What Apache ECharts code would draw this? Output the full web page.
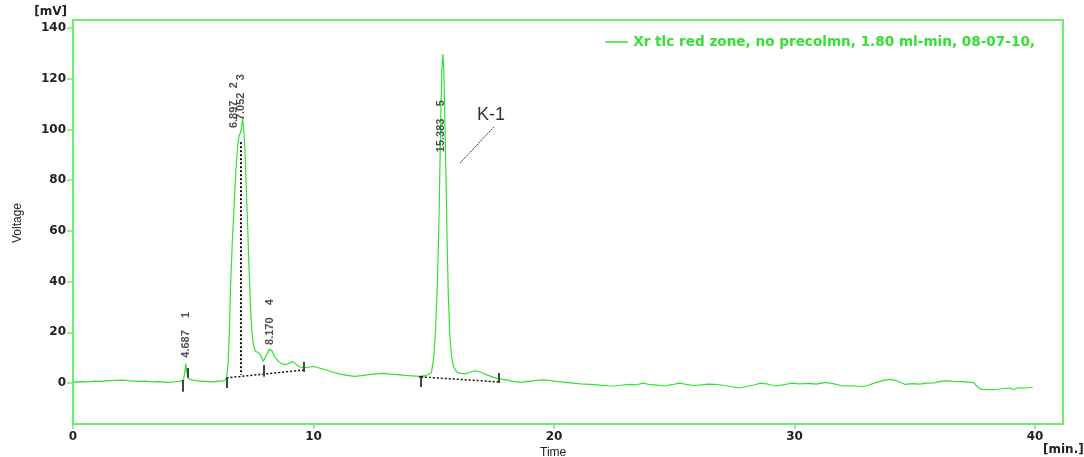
<!DOCTYPE html>
<html>
<head>
<meta charset="utf-8">
<script src="https://cdn.jsdelivr.net/npm/echarts@6/dist/echarts.min.js"></script>
<style>
  html, body { margin: 0; padding: 0; background: #ffffff; }
  #chart { width: 1084px; height: 457px; }
</style>
</head>
<body>
<div id="chart"></div>
<script>
// Chromatogram trace: retention time [min] and detector signal [mV]
const retentionTime = [
  0, 0.3, 0.6, 0.9, 1.2, 1.5, 1.8, 2.1, 2.4, 2.7, 3.0, 3.3, 3.6, 3.9, 4.2, 4.45, 4.6, 4.65, 4.687, 4.73, 4.8, 4.95,
  5.2, 5.5, 5.8, 6.1, 6.3, 6.38,
  6.45, 6.5, 6.55, 6.62, 6.7, 6.78, 6.85, 6.897, 6.95, 7.0, 7.052, 7.1, 7.15, 7.2, 7.26, 7.32, 7.38, 7.44, 7.5,
  7.58, 7.7, 7.8, 7.9, 7.96, 8.05, 8.17, 8.28, 8.4, 8.55, 8.7, 8.85, 9.0, 9.15, 9.3, 9.45, 9.6, 9.8,
  10.0, 10.2, 10.5, 10.8, 11.1, 11.4, 11.7, 12.0, 12.3, 12.6, 12.9, 13.2, 13.5, 13.8, 14.1, 14.4, 14.7, 14.9,
  15.0, 15.08, 15.15, 15.21, 15.26, 15.3, 15.34, 15.383, 15.42, 15.46, 15.5, 15.55, 15.6, 15.66, 15.73, 15.82, 15.95,
  16.1, 16.3, 16.5, 16.7, 16.9, 17.1, 17.4, 17.7, 18.0, 18.3, 18.6, 18.9, 19.2, 19.5, 19.8,
  20.1, 20.4, 20.8, 21.1, 21.5, 21.9, 22.2, 22.5, 22.8, 23.1, 23.4, 23.7, 24.0, 24.3, 24.6, 24.9,
  25.2, 25.5, 25.8, 26.1, 26.4, 26.7, 27.0, 27.4, 27.7, 28.0, 28.3, 28.6, 28.9, 29.2, 29.5, 29.9,
  30.2, 30.6, 30.9, 31.3, 31.6, 32.0, 32.4, 32.85, 33.1, 33.4, 33.7, 33.96, 34.2, 34.4, 34.6, 34.9,
  35.2, 35.5, 35.8, 36.0, 36.3, 36.6, 36.9, 37.2, 37.45, 37.6, 37.75, 38.0, 38.4, 38.7, 38.95, 39.1, 39.3, 39.6, 39.9
];
const voltage = [
  0.3, 0.5, 0.4, 0.7, 0.6, 0.9, 1.0, 1.1, 0.8, 0.6, 0.7, 0.4, 0.5, 0.2, 0.4, 0.6, 1.2, 4.5, 7.6, 4.0, 1.8, 1.2,
  0.8, 0.6, 0.4, 0.7, 0.9, 1.8,
  8, 20, 38, 55, 70, 85, 94, 97, 96.5, 100, 104.5, 100, 92, 78, 62, 45, 30, 20, 15,
  12.5, 12, 11, 8.5, 8.2, 11, 13.4, 12.5, 10, 8.5, 7.5, 7.2, 7.8, 8.4, 7.2, 6.2, 6.0, 6.2,
  6.5, 6.0, 5.2, 4.3, 3.5, 3.0, 2.6, 2.9, 3.3, 3.6, 3.8, 3.5, 3.3, 3.0, 2.8, 2.6, 3.0, 4.0,
  10, 22, 40, 62, 88, 110, 124, 129.7, 122, 104, 85, 58, 36, 20, 11, 6.5, 4.3,
  3.8, 3.6, 4.2, 4.8, 4.5, 3.6, 2.5, 1.6, 1.2, 0.6, 0.2, 0.6, 0.9, 1.2, 1.0,
  0.6, 0.3, -0.1, -0.4, -0.6, -0.9, -1.1, -1.2, -0.9, -0.6, -0.8, -0.1, -0.7, -0.9, -1.2, -0.7,
  -0.1, -0.6, -1.0, -0.8, -0.5, -0.6, -0.9, -1.5, -2.0, -1.4, -0.8, -0.1, -0.5, -1.2, -0.8, -0.1,
  -0.4, -0.2, -0.5, 0.2, -0.3, -1.2, -1.1, -1.4, -0.8, 0.2, 1.0, 1.4, 1.0, 0.2, -0.6, -0.3,
  -0.5, -0.1, 0.0, 0.5, 0.9, 0.6, 0.5, 0.3, 0.1, -1.5, -2.5, -2.6, -2.5, -2.2, -2.0, -2.6, -1.9, -2.0, -1.7
];

// Integrated peaks: retention time and peak number
const peakTimes = [4.687, 6.897, 7.052, 8.170, 15.383];
const peakNumbers = [1, 2, 3, 4, 5];

// Axis tick values and texts
const timeTicks = [0, 10, 20, 30, 40];
const voltTicks = [0, 20, 40, 60, 80, 100, 120, 140];
const seriesName = 'Xr tlc red zone, no precolmn, 1.80 ml-min, 08-07-10,';

const traceColor = '#33e033';
const frameColor = '#6cf06c';
const inkColor = '#222222';

const trace = retentionTime.map((t, i) => [t, voltage[i]]);
const peakHeights = peakTimes.map(t => voltage[retentionTime.indexOf(t)]);

// label placement of each peak tag, in the label's rotated frame
const tagShift = [[6, 0], [9, -5], [-2, -2], [4, 0], [-98, -2]];

const peakTags = peakTimes.map((t, i) => ({
  value: [t, peakHeights[i]],
  label: { offset: tagShift[i] }
}));

// baseline / integration marks drawn by the integrator
const tickStyle = { color: '#444444', width: 2, type: 'solid' };
const baseStyle = { color: '#111111', width: 1.5, type: [2, 2] };
const seg = (a, b, style) => [{ coord: a, lineStyle: style }, { coord: b }];

const integrationMarks = [
  seg([4.574, 1.2], [4.574, -3.5], tickStyle),
  seg([4.78, 5.9], [4.78, 2.0], tickStyle),
  seg([6.38, 2.0], [6.38, -2.0], tickStyle),
  seg([6.38, 2.0], [9.6, 5.1], baseStyle),
  seg([6.985, 95], [6.985, 3.1], { color: '#111111', width: 2, type: [2, 2] }),
  seg([7.95, 7.1], [7.95, 2.4], tickStyle),
  seg([9.6, 8.3], [9.6, 4.3], tickStyle),
  seg([14.46, 2.4], [14.46, -1.6], tickStyle),
  seg([14.38, 2.4], [14.56, 2.4], tickStyle),
  seg([14.46, 2.4], [17.71, 0.4], baseStyle),
  seg([17.71, 3.9], [17.71, 0.0], tickStyle),
  seg([16.09, 86.8], [17.5, 101], { color: '#333333', width: 1, type: [2, 1] })
];

const chart = echarts.init(document.getElementById('chart'), null, { renderer: 'canvas' });

chart.setOption({
  animation: false,
  backgroundColor: '#ffffff',
  grid: {
    left: 73, right: 21, top: 20, bottom: 33,
    containLabel: false,
    outerBoundsMode: 'none',
    show: true,
    borderColor: frameColor,
    borderWidth: 2,
    backgroundColor: 'transparent'
  },
  legend: {
    data: [seriesName],
    right: 44,
    top: 30,
    icon: 'rect',
    itemWidth: 23,
    itemHeight: 1.5,
    itemGap: 0,
    textStyle: {
      color: traceColor,
      fontFamily: 'DejaVu Sans',
      fontWeight: 'bold',
      fontSize: 13.6,
      padding: [0, 0, 0, 0]
    }
  },
  xAxis: {
    type: 'value',
    min: 0,
    max: 41.16,
    axisLine: { onZero: false, lineStyle: { color: frameColor, width: 2 } },
    axisTick: { customValues: timeTicks, length: 5, lineStyle: { color: frameColor, width: 1.5 } },
    axisLabel: {
      customValues: timeTicks,
      color: inkColor,
      fontFamily: 'DejaVu Sans',
      fontWeight: 'bold',
      fontSize: 12,
      margin: 7
    },
    splitLine: { show: false }
  },
  yAxis: {
    type: 'value',
    min: -16.2,
    max: 143.2,
    axisLine: { show: true, onZero: false, lineStyle: { color: frameColor, width: 2 } },
    axisTick: { show: true, customValues: voltTicks, length: 6, lineStyle: { color: frameColor, width: 1.5 } },
    axisLabel: {
      customValues: voltTicks,
      color: inkColor,
      fontFamily: 'DejaVu Sans',
      fontWeight: 'bold',
      fontSize: 12,
      margin: 7
    },
    splitLine: { show: false }
  },
  graphic: [
    { type: 'text', right: 1084 - 67, top: 6, style: { text: '[mV]', fill: inkColor, font: 'bold 12px "DejaVu Sans"' } },
    { type: 'text', left: 1043, top: 444, style: { text: '[min.]', fill: inkColor, font: 'bold 12px "DejaVu Sans"' } },
    { type: 'text', left: 540, top: 447, style: { text: 'Time', fill: inkColor, font: '12px "Liberation Sans"' } },
    { type: 'text', x: 18, y: 223, rotation: Math.PI / 2,
      style: { text: 'Voltage', fill: inkColor, font: '12px "Liberation Sans"', align: 'center', verticalAlign: 'middle' } }
  ],
  series: [
    {
      name: seriesName,
      type: 'line',
      data: trace,
      showSymbol: false,
      symbol: 'none',
      smooth: false,
      color: traceColor,
      lineStyle: { color: traceColor, width: 1.2 },
      z: 3,
      markLine: {
        silent: true,
        symbol: 'none',
        label: { show: false },
        data: integrationMarks,
        z: 4
      },
      markPoint: {
        silent: true,
        symbol: 'circle',
        symbolSize: 0,
        data: [{
          coord: [16.8, 105.7],
          value: 'K-1',
          label: {
            show: true,
            position: 'right',
            distance: 0,
            formatter: 'K-1',
            color: '#333333',
            fontFamily: 'Liberation Sans',
            fontSize: 18
          }
        }]
      }
    },
    {
      name: 'peak tags',
      type: 'scatter',
      data: peakTags,
      symbolSize: 0,
      silent: true,
      z: 5,
      label: {
        show: true,
        position: 'top',
        distance: 0,
        rotate: 90,
        align: 'left',
        verticalAlign: 'middle',
        color: inkColor,
        fontFamily: 'Liberation Sans',
        fontWeight: 'bold',
        fontSize: 11,
        formatter: p => p.value[0].toFixed(3) + '    ' + peakNumbers[p.dataIndex]
      }
    }
  ]
});
</script>
</body>
</html>
